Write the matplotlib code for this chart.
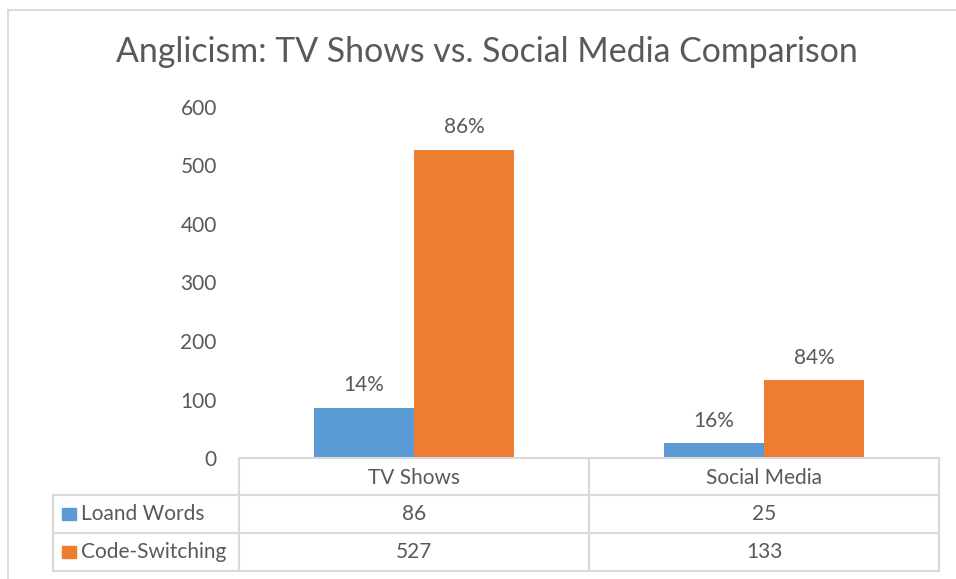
import matplotlib.pyplot as plt
import matplotlib
from matplotlib.lines import Line2D
from matplotlib.patches import Rectangle
import numpy as np

categories = ["TV Shows", "Social Media"]
series_names = ["Loand Words", "Code-Switching"]
loand_words = [86, 25]
code_switching = [527, 133]
loand_pct = ["14%", "16%"]
code_pct = ["86%", "84%"]
y_ticks = [0, 100, 200, 300, 400, 500, 600]

blue = '#5B9BD5'
orange = '#ED7D31'
text_col = '#595959'
line_col = '#D9D9D9'

matplotlib.rcParams['font.family'] = ['Lato', 'DejaVu Sans']

W, H = 956, 579
fig = plt.figure(figsize=(W / 100, H / 100), dpi=100)


def fx(px):
    return px / W


def fy(py):
    return 1 - py / H


# plot area in pixels
left, right, top, bottom = 239, 939, 107, 458
ax = fig.add_axes([fx(left), fy(bottom), fx(right - left), fy(top) - fy(bottom)])

x = np.arange(len(categories)) + 0.5
w = 100 / 350
b1 = ax.bar(x - w / 2, loand_words, width=w, color=blue, label=series_names[0])
b2 = ax.bar(x + w / 2, code_switching, width=w, color=orange, label=series_names[1])

for rects, labels in [(b1, loand_pct), (b2, code_pct)]:
    for r, lab in zip(rects, labels):
        ax.annotate(lab, (r.get_x() + r.get_width() / 2, r.get_height()),
                    xytext=(0, 12), textcoords='offset points',
                    ha='center', va='baseline', fontsize=15, color=text_col)

ax.set_xlim(0, 2)
ax.set_ylim(0, 600)
ax.set_yticks(y_ticks)
ax.set_xticks([])
ax.tick_params(axis='y', length=0, labelsize=15, labelcolor=text_col, pad=16)
for s in ax.spines.values():
    s.set_visible(False)

fig.text(fx(487), fy(62), "Anglicism: TV Shows vs. Social Media Comparison",
         ha='center', va='baseline', fontsize=24.4, color=text_col)

# chart outer border
fig.add_artist(Line2D([fx(8), 1], [fy(10), fy(10)], color=line_col, lw=1.3))
fig.add_artist(Line2D([fx(8), fx(8)], [fy(10), 0], color=line_col, lw=1.3))

# data table
rows = [458, 495, 533, 571]
cols = [239, 589, 939]
lab_left = 53
tlw = 1.5
fig.add_artist(Line2D([fx(cols[0]), fx(cols[-1])], [fy(rows[0])] * 2, color=line_col, lw=tlw))
for ry in rows[1:]:
    fig.add_artist(Line2D([fx(lab_left), fx(cols[-1])], [fy(ry)] * 2, color=line_col, lw=tlw))
for cx in cols:
    fig.add_artist(Line2D([fx(cx)] * 2, [fy(rows[0]), fy(rows[-1])], color=line_col, lw=tlw))
fig.add_artist(Line2D([fx(lab_left)] * 2, [fy(rows[1]), fy(rows[-1])], color=line_col, lw=tlw))

for i, cat in enumerate(categories):
    cx = (cols[i] + cols[i + 1]) / 2
    fig.text(fx(cx), fy((rows[0] + rows[1]) / 2 + 1), cat, ha='center', va='center',
             fontsize=15, color=text_col)

for j, (name, vals, col) in enumerate([(series_names[0], loand_words, blue),
                                        (series_names[1], code_switching, orange)]):
    cy = (rows[j + 1] + rows[j + 2]) / 2
    fig.add_artist(Rectangle((fx(62), fy(cy + 6)), fx(14), fy(cy - 6) - fy(cy + 6),
                             color=col, transform=fig.transFigure))
    fig.text(fx(81), fy(cy), name, ha='left', va='center', fontsize=15, color=text_col)
    for i, v in enumerate(vals):
        cx = (cols[i] + cols[i + 1]) / 2
        fig.text(fx(cx), fy(cy), str(v), ha='center', va='center', fontsize=15, color=text_col)

plt.savefig('out.png', dpi=100)
